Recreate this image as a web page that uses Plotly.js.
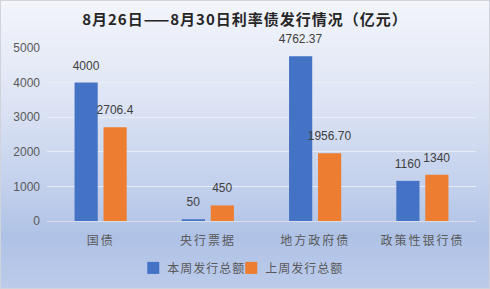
<!DOCTYPE html>
<html><head><meta charset="utf-8">
<script src="https://cdn.plot.ly/plotly-3.0.1.min.js"></script>
<style>
html,body{margin:0;padding:0;}
#wrap{width:488px;height:287px;border:1px solid #D0D3D9;background:linear-gradient(to bottom,#F3F5FB 0%,#DDE4F4 35%,#C2D0EC 65%,#AFC2E6 82%,#BCCBEA 100%);}
#chart{width:488px;height:287px;}
.xtick text{letter-spacing:2px;}
.legendtext{letter-spacing:1px;translate:-6px 0;}
.legend .scrollbox{clip-path:none !important;}
.gtitle{letter-spacing:1px;}
.trace.bars .point text{translate:0 -7px;}
</style></head>
<body><div id="wrap"><div id="chart"></div></div>
<script>
const categories = ['国债','央行票据','地方政府债','政策性银行债'];
const thisWeek = [4000, 50, 4762.37, 1160];
const lastWeek = [2706.4, 450, 1956.70, 1340];
const thisWeekLabels = ['4000','50','4762.37','1160'];
const lastWeekLabels = ['2706.4','450','1956.70','1340'];
const seriesNames = ['本周发行总额','上周发行总额'];
const yTicks = [0,1000,2000,3000,4000,5000];

const lblFont = {family:'Liberation Sans, Arial, sans-serif', size:12, color:'#404040'};
const data = [
 {type:'bar', name:seriesNames[0], x:categories, y:thisWeek, text:thisWeekLabels, textposition:'outside', constraintext:'none', cliponaxis:false, textfont:lblFont, marker:{color:'#4472C4'}, hoverinfo:'none'},
 {type:'bar', name:seriesNames[1], x:categories, y:lastWeek, text:lastWeekLabels, textposition:'outside', constraintext:'none', cliponaxis:false, textfont:lblFont, marker:{color:'#ED7D31'}, hoverinfo:'none'}
];
const layout = {
 width:488, height:287,
 paper_bgcolor:'rgba(0,0,0,0)', plot_bgcolor:'rgba(0,0,0,0)',
 margin:{l:46, r:13, t:47, b:67, autoexpand:false},
 title:{text:'<b>8月26日——8月30日利率债发行情况（亿元）</b>', x:0.5, xanchor:'center', y:0.935, yanchor:'middle', font:{family:'Noto Sans CJK SC', size:15, color:'#262626'}},
 bargap:0.46, bargroupgap:0.2, barmode:'group',
 xaxis:{type:'category', tickfont:{family:'Noto Sans CJK SC', size:12, color:'#595959'}, showline:true, linecolor:'#D9DEE8', linewidth:1, ticks:'', ticklabelstandoff:9, fixedrange:true},
 yaxis:{range:[0,5000], tickvals:yTicks, ticktext:yTicks.map(String), tickfont:{family:'Liberation Sans, Arial, sans-serif', size:12, color:'#595959'}, gridcolor:'rgba(235,238,245,0.9)', gridwidth:1, zeroline:false, showline:false, ticks:'', ticklabelstandoff:6},
 showlegend:true,
 legend:{orientation:'h', xref:'container', x:0.271, xanchor:'left', yref:'container', y:0.07, yanchor:'middle', font:{family:'Noto Sans CJK SC', size:12, color:'#595959'}, itemwidth:30, entrywidth:53, entrywidthmode:'pixels', traceorder:'normal'}
};
Plotly.newPlot('chart', data, layout, {displayModeBar:false, staticPlot:true});
</script></body></html>
